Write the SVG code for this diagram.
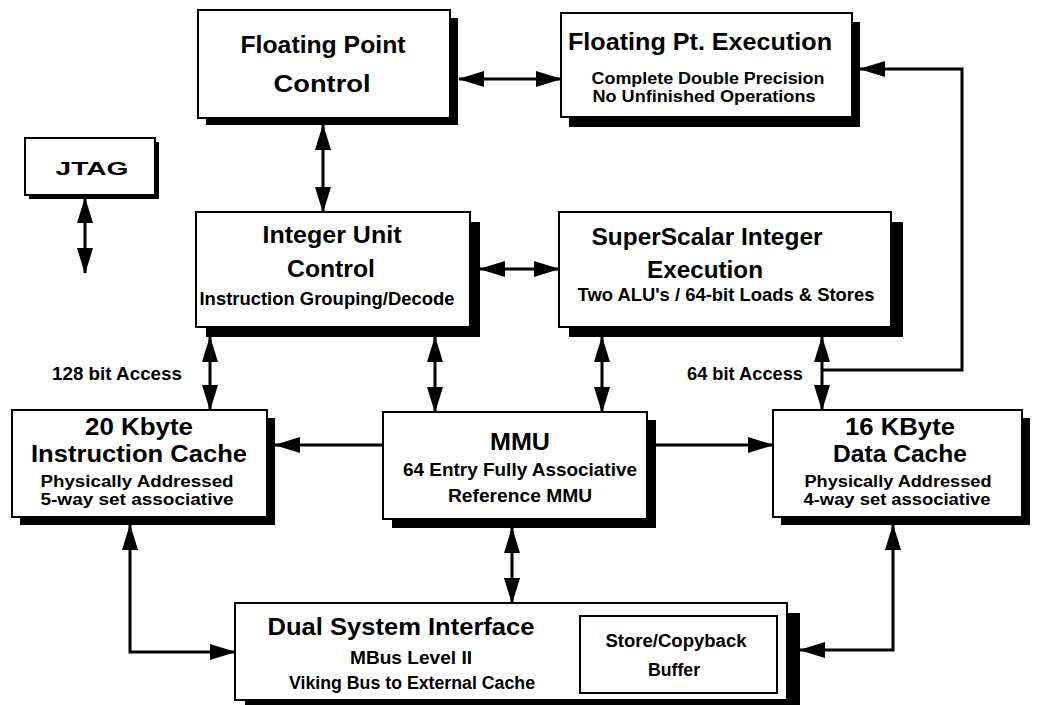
<svg xmlns="http://www.w3.org/2000/svg" width="1037" height="705" viewBox="0 0 1037 705">
<defs>
<style>
.box{fill:#fff;stroke:#000;stroke-width:2}
.sh{fill:#000}
.t{font-family:"Liberation Sans",Arial,Helvetica,sans-serif;font-weight:bold;fill:#000;text-anchor:middle}
.h{font-size:24px}
.h2{font-size:23px}
.s{font-size:18px}
.s2{font-size:16px}
.c{fill:none;stroke:#000;stroke-width:3}
</style>
<marker id="ah" markerUnits="userSpaceOnUse" markerWidth="26" markerHeight="16" viewBox="0 0 26 16" refX="25" refY="8" orient="auto-start-reverse">
<path d="M0,0 L26,8 L0,16 z" fill="#000"/>
</marker>
</defs>
<rect width="1037" height="705" fill="#fff"/>

<g id="connectors">
<line class="c" x1="459" y1="79" x2="561" y2="79" marker-start="url(#ah)" marker-end="url(#ah)"/>
<path class="c" d="M822,370 H962 V69 H860" marker-end="url(#ah)"/>
<line class="c" x1="323" y1="125" x2="323" y2="212" marker-start="url(#ah)" marker-end="url(#ah)"/>
<line class="c" x1="85" y1="198" x2="85" y2="273" marker-start="url(#ah)" marker-end="url(#ah)"/>
<line class="c" x1="480" y1="269" x2="559" y2="269" marker-start="url(#ah)" marker-end="url(#ah)"/>
<line class="c" x1="210" y1="337" x2="210" y2="410" marker-start="url(#ah)" marker-end="url(#ah)"/>
<line class="c" x1="435" y1="337" x2="435" y2="412" marker-start="url(#ah)" marker-end="url(#ah)"/>
<line class="c" x1="602" y1="337" x2="602" y2="412" marker-start="url(#ah)" marker-end="url(#ah)"/>
<line class="c" x1="822" y1="337" x2="822" y2="410" marker-start="url(#ah)" marker-end="url(#ah)"/>
<line class="c" x1="383" y1="445" x2="275" y2="445" marker-end="url(#ah)"/>
<line class="c" x1="656" y1="445" x2="773" y2="445" marker-end="url(#ah)"/>
<line class="c" x1="512" y1="528" x2="512" y2="603" marker-start="url(#ah)" marker-end="url(#ah)"/>
<path class="c" d="M130,525 V652 H235" marker-start="url(#ah)" marker-end="url(#ah)"/>
<path class="c" d="M893,525 V650 H800" marker-start="url(#ah)" marker-end="url(#ah)"/>
</g>

<g id="fp-control">
<rect class="sh" x="206" y="18" width="252" height="107"/>
<rect class="box" x="198" y="10" width="252" height="108"/>
<text class="t h" x="323" y="53" textLength="165" lengthAdjust="spacingAndGlyphs">Floating Point</text>
<text class="t h" x="322" y="92" textLength="97" lengthAdjust="spacingAndGlyphs">Control</text>
</g>

<g id="fp-execution">
<rect class="sh" x="569" y="22" width="291" height="105"/>
<rect class="box" x="561" y="13" width="291" height="104"/>
<text class="t h" x="700" y="50" textLength="264" lengthAdjust="spacingAndGlyphs">Floating Pt. Execution</text>
<text class="t s2" x="708" y="84" textLength="233" lengthAdjust="spacingAndGlyphs">Complete Double Precision</text>
<text class="t s2" x="704" y="102" textLength="223" lengthAdjust="spacingAndGlyphs">No Unfinished Operations</text>
</g>

<g id="jtag">
<rect class="sh" x="29" y="142" width="130" height="57"/>
<rect class="box" x="25" y="138" width="130" height="57"/>
<text class="t" x="92" y="175" font-size="18" textLength="73" lengthAdjust="spacingAndGlyphs">JTAG</text>
</g>

<g id="iu-control">
<rect class="sh" x="206" y="222" width="274" height="115"/>
<rect class="box" x="196" y="212" width="274" height="115"/>
<text class="t h" x="332" y="243" textLength="139" lengthAdjust="spacingAndGlyphs">Integer Unit</text>
<text class="t h" x="331" y="277" textLength="88" lengthAdjust="spacingAndGlyphs">Control</text>
<text class="t s" x="327" y="305" textLength="255" lengthAdjust="spacingAndGlyphs">Instruction Grouping/Decode</text>
</g>

<g id="ss-execution">
<rect class="sh" x="569" y="222" width="334" height="115"/>
<rect class="box" x="559" y="212" width="332" height="115"/>
<text class="t h" x="707" y="245" textLength="231" lengthAdjust="spacingAndGlyphs">SuperScalar Integer</text>
<text class="t h" x="705" y="278" textLength="116" lengthAdjust="spacingAndGlyphs">Execution</text>
<text class="t s" x="726" y="301" textLength="297" lengthAdjust="spacingAndGlyphs">Two ALU's / 64-bit Loads &amp; Stores</text>
</g>

<g id="labels">
<text class="t s" x="117" y="380" textLength="130" lengthAdjust="spacingAndGlyphs">128 bit Access</text>
<text class="t s" x="745" y="380" textLength="116" lengthAdjust="spacingAndGlyphs">64 bit Access</text>
</g>

<g id="icache">
<rect class="sh" x="20" y="418" width="255" height="107"/>
<rect class="box" x="12" y="410" width="255" height="107"/>
<text class="t h2" x="139" y="435" textLength="108" lengthAdjust="spacingAndGlyphs">20 Kbyte</text>
<text class="t h2" x="139" y="462" textLength="216" lengthAdjust="spacingAndGlyphs">Instruction Cache</text>
<text class="t s2" x="137" y="487" textLength="193" lengthAdjust="spacingAndGlyphs">Physically Addressed</text>
<text class="t s2" x="137" y="505" textLength="193" lengthAdjust="spacingAndGlyphs">5-way set associative</text>
</g>

<g id="mmu">
<rect class="sh" x="392" y="420" width="264" height="108"/>
<rect class="box" x="383" y="412" width="264" height="107"/>
<text class="t h" x="520" y="450" font-weight="normal" textLength="60" lengthAdjust="spacingAndGlyphs">MMU</text>
<text class="t s" x="520" y="476" textLength="234" lengthAdjust="spacingAndGlyphs">64 Entry Fully Associative</text>
<text class="t s" x="520" y="502" textLength="144" lengthAdjust="spacingAndGlyphs">Reference MMU</text>
</g>

<g id="dcache">
<rect class="sh" x="781" y="418" width="249" height="107"/>
<rect class="box" x="773" y="410" width="249" height="107"/>
<text class="t h2" x="900" y="435" textLength="110" lengthAdjust="spacingAndGlyphs">16 KByte</text>
<text class="t h2" x="900" y="462" textLength="134" lengthAdjust="spacingAndGlyphs">Data Cache</text>
<text class="t s2" x="898" y="487" textLength="187" lengthAdjust="spacingAndGlyphs">Physically Addressed</text>
<text class="t s2" x="897" y="505" textLength="187" lengthAdjust="spacingAndGlyphs">4-way set associative</text>
</g>

<g id="dsi">
<rect class="sh" x="245" y="613" width="555" height="97"/>
<rect class="box" x="235" y="603" width="552" height="97"/>
<text class="t h" x="401" y="635" textLength="267" lengthAdjust="spacingAndGlyphs">Dual System Interface</text>
<text class="t s" x="411" y="664" textLength="122" lengthAdjust="spacingAndGlyphs">MBus Level II</text>
<text class="t s" x="412" y="689" textLength="246" lengthAdjust="spacingAndGlyphs">Viking Bus to External Cache</text>
</g>

<g id="store-buffer">
<rect class="box" x="580" y="616" width="197" height="77"/>
<text class="t s" x="676" y="647" textLength="141" lengthAdjust="spacingAndGlyphs">Store/Copyback</text>
<text class="t s" x="674" y="676" textLength="52" lengthAdjust="spacingAndGlyphs">Buffer</text>
</g>
</svg>
